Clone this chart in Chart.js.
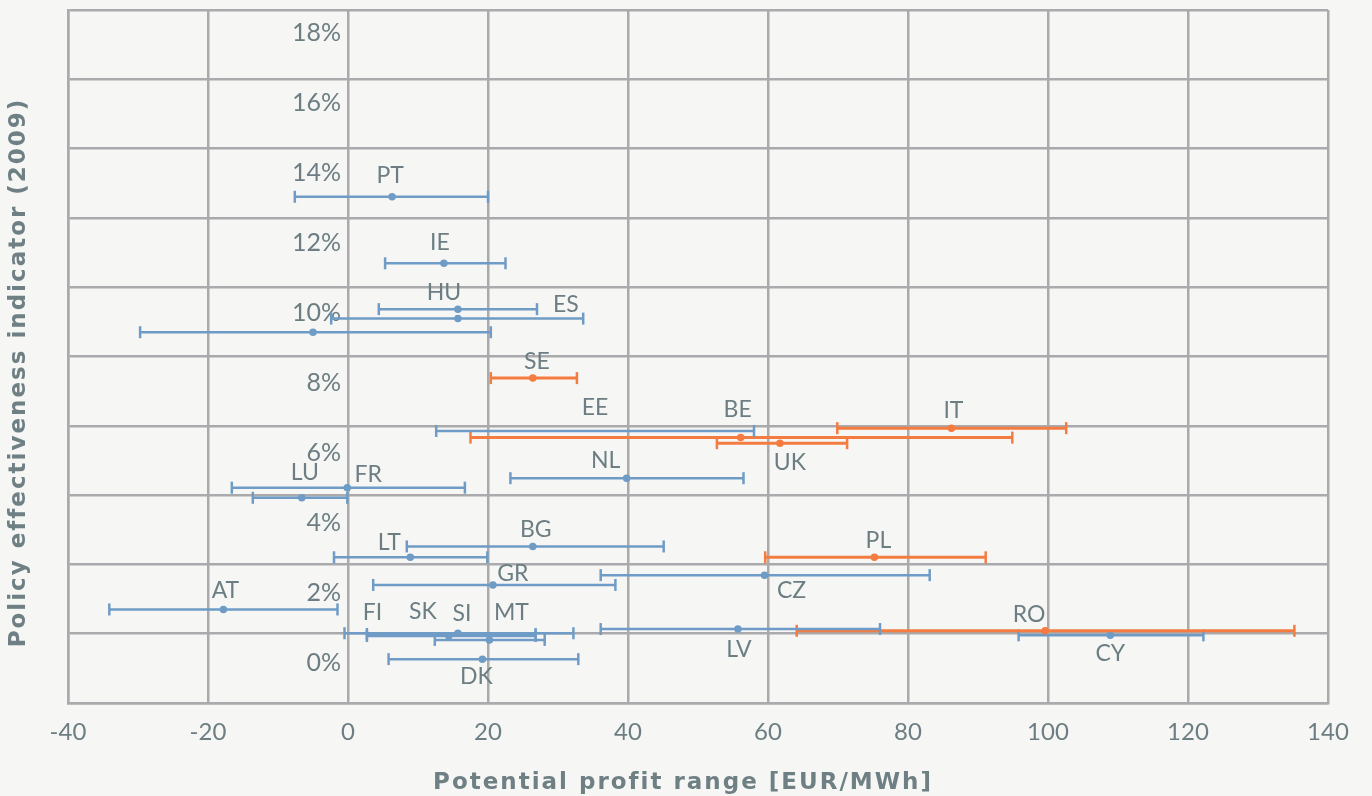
<!DOCTYPE html>
<html><head><meta charset="utf-8">
<script src="https://cdn.jsdelivr.net/npm/chart.js@4"></script>
<style>html,body{margin:0;padding:0;background:#f6f6f4;}canvas{display:block;}</style>
</head><body>
<canvas id="c" width="1372" height="796"></canvas>
<script>
// ---- data ----
const countries     = ['PT','IE','HU','ES','DE','SE','EE','BE','IT','UK','NL','FR','LU','BG','LT','PL','CZ','GR','AT','FI','SK','SI','MT','DK','LV','RO','CY'];
const effectiveness = [13.32,11.42,10.11,9.84,9.45,8.14,6.63,6.44,6.71,6.28,5.28,5.01,4.72,3.33,3.02,3.02,2.51,2.23,1.53,0.83,0.77,0.85,0.66,0.11,0.97,0.92,0.79];
const profitLow     = [-7.6,5.3,4.4,-2.4,-29.7,20.4,12.6,17.5,69.9,52.7,23.2,-16.6,-13.6,8.4,-2.0,59.6,36.1,3.6,-34.1,2.7,2.7,-0.5,12.4,5.8,36.1,64.1,95.8];
const profitMid     = [6.3,13.7,15.7,15.7,-5.0,26.4,35.3,56.1,86.2,61.7,39.8,-0.1,-6.6,26.4,8.9,75.2,59.5,20.7,-17.8,3.5,14.4,15.7,20.2,19.2,55.7,99.6,108.9];
const profitHigh    = [20.0,22.5,27.0,33.6,20.4,32.7,58.0,94.9,102.6,71.3,56.5,16.7,-0.1,45.1,19.9,91.1,83.1,38.2,-1.5,26.8,26.8,32.2,28.1,32.9,76.0,135.2,122.2];
const quotaCountries = ['SE','BE','IT','UK','PL','RO'];
const xTicks = [-40,-20,0,20,40,60,80,100,120,140];
const yTicks = [0,2,4,6,8,10,12,14,16,18];
const xTitle = 'Potential profit range [EUR/MWh]';
const yTitle = 'Policy effectiveness indicator (2009)';

// ---- layout / style (not data) ----
const yRange = [-1.143, 18.657];
const hiddenMarkers = ['EE','FI'];
const labelOffsets = {PT:[-2,-21],IE:[-4,-21],HU:[-14,-17],ES:[108,-14],SE:[4,-17],EE:[0,-23],BE:[-3,-28],IT:[2,-18],UK:[10,19],
  NL:[-21,-18],FR:[21,-13],LU:[3,-25],BG:[3,-17],LT:[-21,-15],PL:[4,-17],CZ:[27,15],GR:[20,-11],AT:[2,-19],
  FI:[0,-21],SK:[-26,-24],SI:[4,-20],MT:[22,-27],DK:[-6,17],LV:[1,21],RO:[-16,-16],CY:[0,18]};
const BLUE='#6f9cc6', ORANGE='#f47c40', TEXT='#6c7e83', TITLE='#6f8085', GRID='#aaaaac';

const datasets = countries.map((c,i)=>{
  const q = quotaCountries.includes(c);
  const col = q ? ORANGE : BLUE;
  const hid = hiddenMarkers.includes(c);
  return {
    label: c, yAxisID:'y', xAxisID:'x',
    data: [{x:profitLow[i],y:effectiveness[i]},{x:profitMid[i],y:effectiveness[i]},{x:profitHigh[i],y:effectiveness[i]}],
    showLine: true, borderColor: col, backgroundColor: col, borderWidth: q ? 3 : 2.5,
    pointStyle: ctx => ctx.dataIndex === 1 ? 'circle' : 'line',
    pointRadius: ctx => ctx.dataIndex === 1 ? (hid ? 0 : 3) : 6,
    pointRotation: ctx => ctx.dataIndex === 1 ? 0 : 90,
    pointBorderWidth: ctx => ctx.dataIndex === 1 ? (hid ? 0 : 1.5) : 2.5,
    pointBorderColor: col, pointBackgroundColor: col,
    clip: false
  };
});

const countryLabels = {
  id:'countryLabels',
  afterDatasetsDraw(chart){
    const {ctx, scales:{x, y}} = chart;
    ctx.save();
    ctx.font = '23px Lato'; ctx.fillStyle = TEXT; ctx.textAlign='center'; ctx.textBaseline='middle';
    countries.forEach((c,i)=>{
      const o = labelOffsets[c]; if(!o) return;
      ctx.fillText(c, x.getPixelForValue(profitMid[i]) + o[0], y.getPixelForValue(effectiveness[i]) + o[1]);
    });
    ctx.restore();
  }
};
const axisTitles = {
  id:'axisTitles',
  afterDraw(chart){
    const ctx = chart.ctx, a = chart.chartArea;
    ctx.save();
    ctx.fillStyle = TITLE; ctx.font = 'bold 23px "DejaVu Sans"';
    ctx.letterSpacing = '2px';
    ctx.textAlign='center'; ctx.textBaseline='middle';
    ctx.fillText(xTitle, (a.left+a.right)/2 - 15, chart.height - 13);
    ctx.translate(19, (a.top+a.bottom)/2 + 16);
    ctx.rotate(-Math.PI/2);
    ctx.fillText(yTitle, 0, 0);
    ctx.restore();
  }
};
const zeroPad = s => { s.paddingTop=0; s.paddingBottom=0; s.paddingLeft=0; s.paddingRight=0; };

new Chart(document.getElementById('c'), {
  type:'scatter',
  data:{datasets},
  plugins:[countryLabels, axisTitles],
  options:{
    responsive:false, animation:false, events:[],
    layout:{padding:{left:68,right:44,top:10,bottom:0}},
    plugins:{legend:{display:false}, tooltip:{enabled:false}},
    scales:{
      x:{type:'linear', min:-40, max:140,
         afterBuildTicks: s => { s.ticks = xTicks.map(v=>({value:v})); },
         grid:{color:GRID, lineWidth:2.5, drawTicks:false},
         border:{color:GRID, width:2.5},
         ticks:{color:TEXT, font:{family:'Lato', size:24}, padding:15, maxRotation:0},
         afterFit: s => { s.height = 93; }},
      y:{type:'linear', axis:'y', position:{x:-1}, min:yRange[0], max:yRange[1],
         afterBuildTicks: s => { s.ticks = yTicks.map(v=>({value:v})); },
         grid:{display:false, drawTicks:false}, border:{display:false},
         ticks:{color:TEXT, font:{family:'Lato', size:25}, padding:0, callback: v => v + '%'},
         afterFit: zeroPad},
      yGrid:{type:'linear', axis:'y', position:'left', min:yRange[0], max:yRange[1],
         afterBuildTicks: s => { s.ticks = Array.from({length:11}, (_,i)=>({value: yRange[0] + i*(yRange[1]-yRange[0])/10})); },
         grid:{color:GRID, lineWidth:2.5, drawTicks:false}, border:{color:GRID, width:2.5},
         ticks:{display:false}, afterFit: s => { s.width = 0; zeroPad(s); }}
    }
  }
});
</script>
</body></html>
